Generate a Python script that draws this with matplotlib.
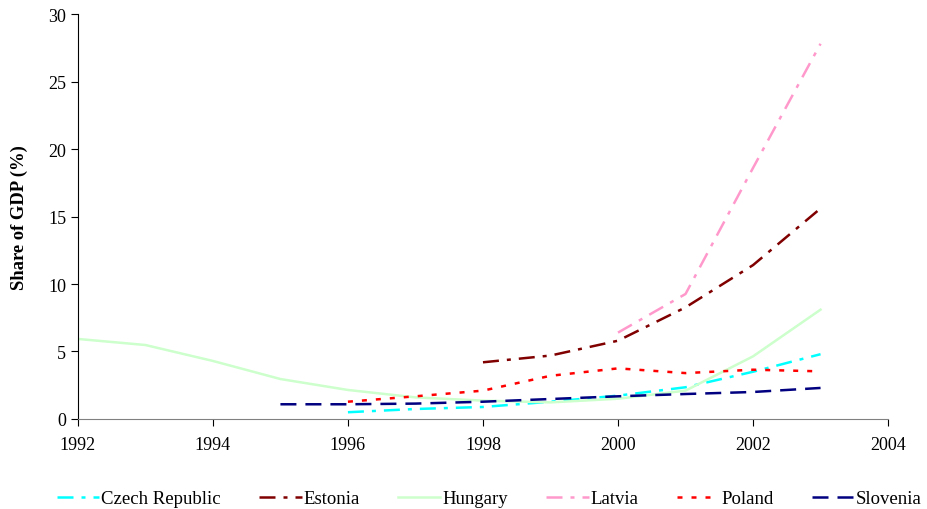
import matplotlib
matplotlib.use("Agg")
import matplotlib.pyplot as plt

plt.rcParams['font.family'] = ['Liberation Serif', 'DejaVu Serif']

years_czech = [1996, 1997, 1998, 1999, 2000, 2001, 2002, 2003]
czech = [0.5, 0.74, 0.89, 1.28, 1.73, 2.35, 3.5, 4.8]

years_estonia = [1998, 1999, 2000, 2001, 2002, 2003]
estonia = [4.2, 4.7, 5.8, 8.27, 11.4, 15.6]

years_hungary = list(range(1992, 2004))
hungary = [5.93, 5.48, 4.3, 2.96, 2.15, 1.6, 1.36, 1.23, 1.5, 2.1, 4.64, 8.1]

years_latvia = [2000, 2001, 2002, 2003]
latvia = [6.4, 9.26, 18.6, 27.8]

years_poland = [1996, 1997, 1998, 1999, 2000, 2001, 2002, 2003]
poland = [1.28, 1.68, 2.1, 3.2, 3.75, 3.4, 3.65, 3.53]

years_slovenia = [1995, 1996, 1997, 1998, 1999, 2000, 2001, 2002, 2003]
slovenia = [1.09, 1.09, 1.14, 1.28, 1.48, 1.68, 1.85, 2.0, 2.3]

fig = plt.figure(figsize=(9.27, 5.10), dpi=100)
ax = fig.add_axes([0.084, 0.1765, 0.874, 0.794])

lw = 1.8
dashdot = (6.4, 3.2, 1.6, 3.2)
ax.plot(years_czech, czech, color='#00ffff', lw=lw, dashes=dashdot, label='Czech Republic')
ax.plot(years_estonia, estonia, color='#800000', lw=lw, dashes=dashdot, label='Estonia')
ax.plot(years_hungary, hungary, color='#ccffcc', lw=lw, label='Hungary')
ax.plot(years_latvia, latvia, color='#ff99cc', lw=lw, dashes=dashdot, label='Latvia')
ax.plot(years_poland, poland, color='#ff0000', lw=lw, dashes=(2, 3.6), label='Poland')
ax.plot(years_slovenia, slovenia, color='#000080', lw=lw, dashes=(6.4, 3.6), label='Slovenia')

ax.set_xlim(1992, 2004)
ax.set_ylim(0, 30)
ax.set_xticks(range(1992, 2005, 2))
ax.set_yticks(range(0, 31, 5))
ax.tick_params(labelsize=13, direction='out', length=5)
ax.tick_params(axis='x', pad=7)
ax.spines['top'].set_visible(False)
ax.spines['right'].set_visible(False)
ax.spines['bottom'].set_color('#808080')
ax.set_ylabel('Share of GDP (%)', fontsize=13.4, fontweight='bold', labelpad=14)

ax.legend(loc='center', bbox_to_anchor=(0.508, -0.197), ncol=6, frameon=False,
          fontsize=13.5, handlelength=2.25, handletextpad=0.1, columnspacing=2.05)

fig.savefig('out.png', dpi=100)
